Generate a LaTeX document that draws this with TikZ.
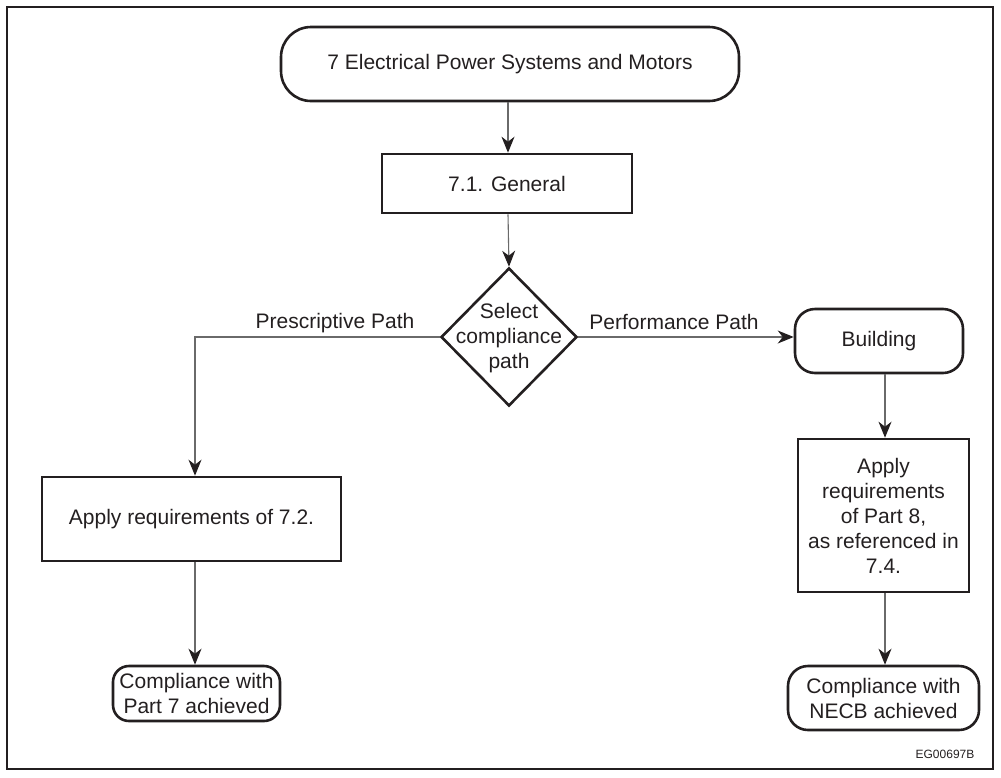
\documentclass[tikz,border=0pt]{standalone}
\usepackage{fontspec}
\setmainfont{Liberation Sans}
\usetikzlibrary{shapes.geometric,arrows.meta}
\definecolor{ink}{HTML}{231F20}
\definecolor{wire}{HTML}{6A6A6A}
\begin{document}
\begin{tikzpicture}[x=1pt,y=-1pt,
  font=\fontsize{21}{25}\selectfont, text=ink,
  box/.style={draw=ink,line width=2.6pt,rectangle,inner sep=0pt,align=center},
  term/.style={box,rounded corners=#1},
  lbl/.style={inner sep=0pt},
  conn/.style={draw=wire,line width=1.1pt,-{Stealth[length=16pt,width=13pt,inset=5pt,color=ink]}},
  plain/.style={draw=wire,line width=1.1pt}
]
\useasboundingbox (0,0) rectangle (1001,777);
\draw[line width=1.2pt,draw=ink] (7,7) rectangle (993,769);

\node[term=30pt, minimum width=458pt, minimum height=74pt] (top) at (510,64) {7 Electrical Power Systems and Motors};
\node[box, minimum width=250pt, minimum height=59pt] (gen) at (507,183.5) {7.1. General};
\node[box, diamond, minimum width=136pt, minimum height=138pt] (dia) at (509,337) {};
\node[lbl, align=center] (dial) at (509,338) {Select\\compliance\\path};

\node[box, minimum width=299pt, minimum height=84pt] (p72) at (191.5,519) {Apply requirements of 7.2.};
\node[term=16pt, minimum width=167pt, minimum height=55pt] (part7) at (196.5,693.5) {Compliance with\\Part 7 achieved};

\node[term=20pt, minimum width=168pt, minimum height=64pt] (bld) at (879,341) {Building};
\node[box, minimum width=171pt, minimum height=153pt] (p8) at (883.5,515.5) {Apply\\requirements\\of Part 8,\\as referenced in\\7.4.};
\node[term=20pt, minimum width=191pt, minimum height=64pt] (necb) at (883.5,698) {Compliance with\\NECB achieved};

\node[lbl] (lp) at (335,323) {Prescriptive Path};
\node[lbl] (lf) at (674,322) {Performance Path};
\node[lbl, font=\fontsize{12}{14}\selectfont] (eg) at (945,754) {EG00697B};

\coordinate (cx) at (508,0);
\coordinate (pc) at (195,337);
\coordinate (rx) at (885,341);

\draw[conn] (top.south -| cx) -- (gen.north -| cx);
\draw[conn] (gen.south -| cx) -- (dia.north);
\draw[conn] (dia.west) -- (pc) -- (p72.north -| pc);
\draw[conn] (p72.south -| pc) -- (part7.north -| pc);
\draw[conn] (dia.east) -- (dia.east -| bld.west);
\draw[conn] (bld.south -| rx) -- (p8.north -| rx);
\draw[conn] (p8.south -| rx) -- (necb.north -| rx);
\end{tikzpicture}
\end{document}
